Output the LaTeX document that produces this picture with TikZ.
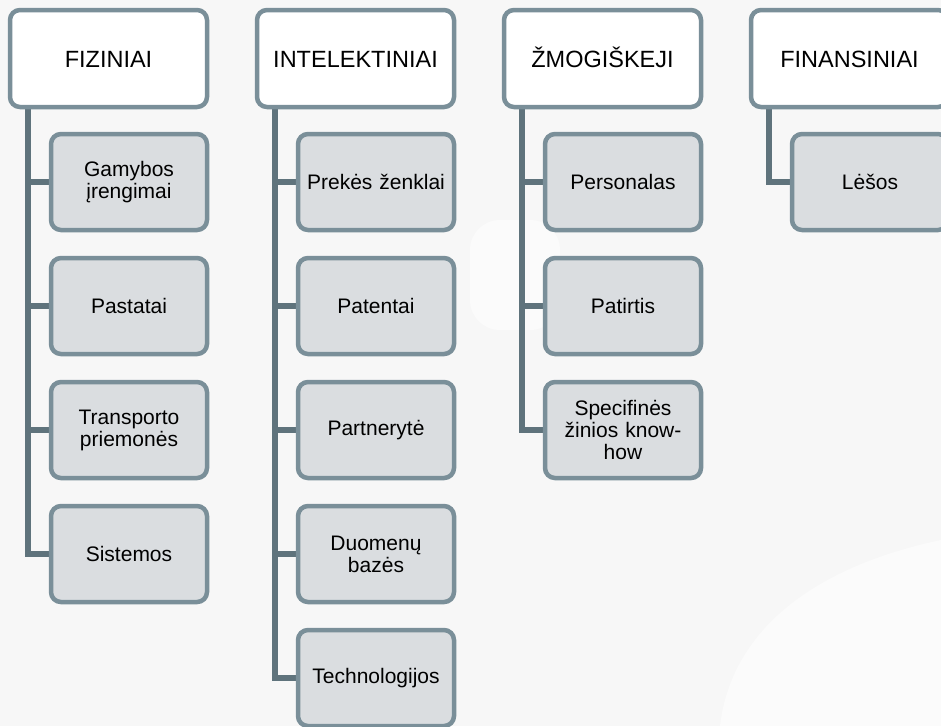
\documentclass[tikz,border=0pt]{standalone}
\usepackage{fontspec}
\setmainfont{Liberation Sans}
\usetikzlibrary{backgrounds}
\definecolor{bg}{HTML}{F7F7F7}
\definecolor{boxline}{HTML}{7A8F99}
\definecolor{connline}{HTML}{5F737C}
\definecolor{childfill}{HTML}{DADDE0}
\tikzset{
  header/.style={draw=boxline, line width=4.5pt, fill=white, rounded corners=10pt,
    minimum width=197pt, minimum height=97pt, inner sep=0pt, align=center,
    text height=17pt, text depth=0pt,
    font=\fontsize{23.5}{27}\selectfont},
  child/.style={draw=boxline, line width=4.5pt, fill=childfill, rounded corners=10pt,
    minimum width=156pt, minimum height=96pt, inner sep=0pt, align=center,
    text width=150pt, font=\fontsize{21}{22}\selectfont},
  conn/.style={draw=connline, line width=5.5pt}
}
\begin{document}
\begin{tikzpicture}[x=1pt,y=-1pt]
\useasboundingbox (0,0) rectangle (941,726);
% headers
\node[header] (h1) at (108.5,58.5) {FIZINIAI};
\node[header] (h2) at (355.5,58.5) {INTELEKTINIAI};
\node[header] (h3) at (602.5,58.5) {ŽMOGIŠKEJI};
\node[header] (h4) at (849.5,58.5) {FINANSINIAI};
% children
\node[child] (c11) at (129,182) {Gamybos\\įrengimai};
\node[child] (c12) at (129,306) {Pastatai};
\node[child] (c13) at (129,430) {Transporto\\priemonės};
\node[child] (c14) at (129,554) {Sistemos};
\node[child] (c21) at (376,182) {Prekės ženklai};
\node[child] (c22) at (376,306) {Patentai};
\node[child] (c23) at (376,430) {Partnerytė};
\node[child] (c24) at (376,554) {Duomenų\\bazės};
\node[child] (c25) at (376,678) {Technologijos};
\node[child] (c31) at (623,182) {Personalas};
\node[child] (c32) at (623,306) {Patirtis};
\node[child] (c33) at (623,430) {Specifinės\\žinios know-\\how};
\node[child] (c41) at (870,182) {Lėšos};
\begin{scope}[on background layer]
\fill[bg] (0,0) rectangle (941,726);
% faint watermark
\begin{scope}[white, opacity=0.55]
\fill[rounded corners=30pt] (470,220) rectangle (560,330);
\fill (720,726) .. controls (730,640) and (800,570) .. (941,540) -- (941,726) -- cycle;
\end{scope}
% connector origins
\coordinate (o1) at ([xshift=20pt]h1.south west);
\coordinate (o2) at ([xshift=20pt]h2.south west);
\coordinate (o3) at ([xshift=20pt]h3.south west);
\coordinate (o4) at ([xshift=20pt]h4.south west);
\foreach \o/\c in {o1/c11,o1/c12,o1/c13,o1/c14,o2/c21,o2/c22,o2/c23,o2/c24,o2/c25,o3/c31,o3/c32,o3/c33,o4/c41}{
  \draw[conn] (\o) |- (\c.west);
}
\end{scope}
\end{tikzpicture}
\end{document}
